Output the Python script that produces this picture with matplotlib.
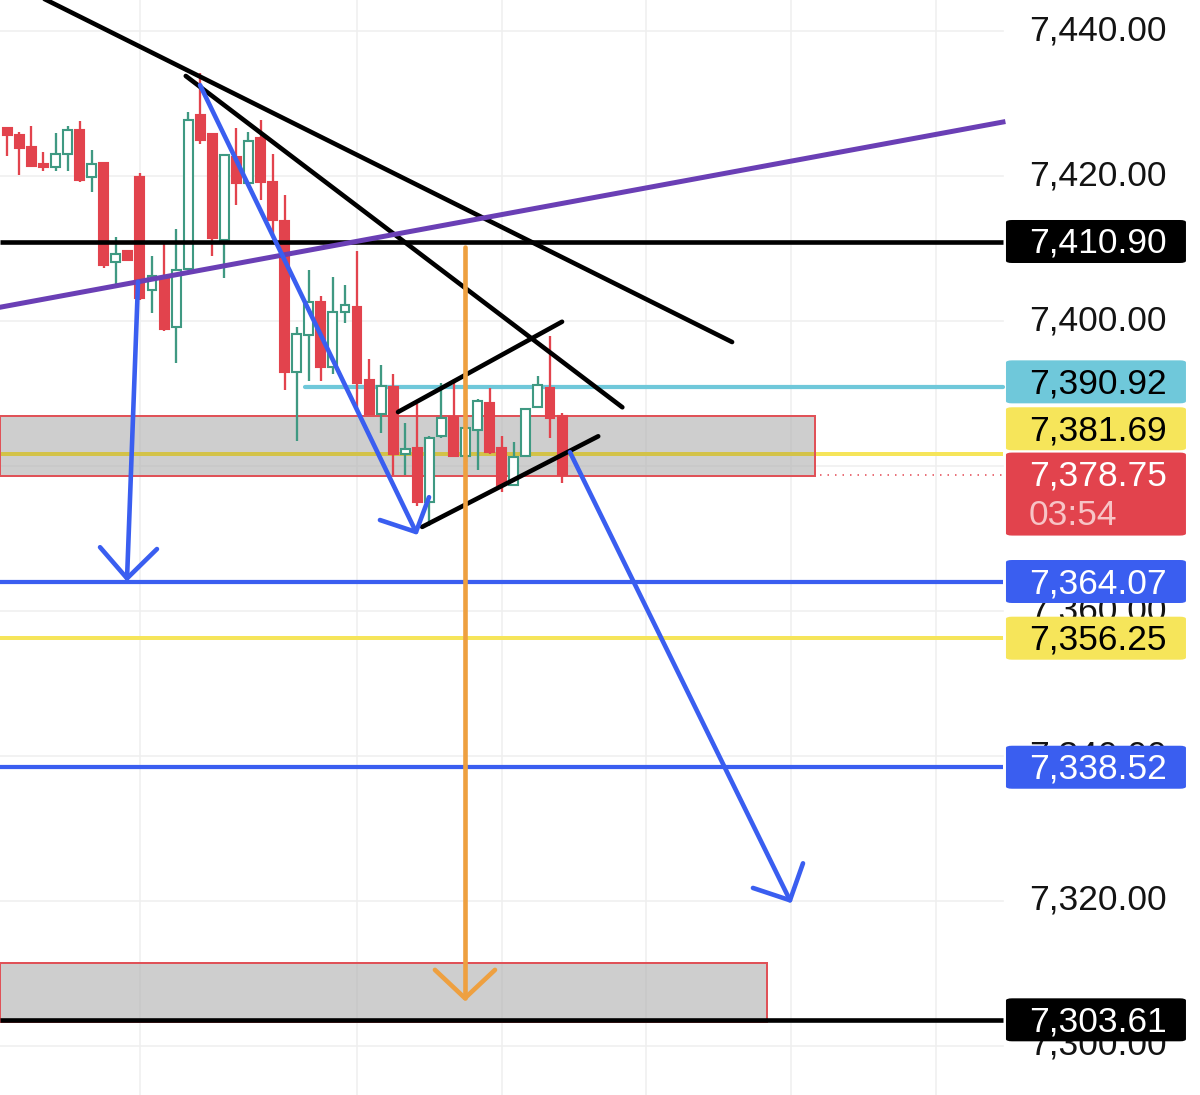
import matplotlib
matplotlib.use("Agg")
import matplotlib.pyplot as plt
from matplotlib.patches import Rectangle, FancyBboxPatch

# ---------------- data ----------------
opens = [7426.6, 7425.7, 7424.0, 7421.5, 7421.2, 7423.1, 7426.3, 7419.9, 7421.8, 7408.2,
         7409.7, 7419.9, 7404.3, 7406.1, 7399.2, 7407.2, 7428.4, 7425.8, 7411.2, 7422.6,
         7419.0, 7425.3, 7419.2, 7413.8, 7392.9, 7398.1, 7402.6, 7393.7, 7401.3, 7401.9,
         7391.8, 7387.2, 7390.9, 7381.6, 7382.5, 7375.1, 7384.1, 7386.8, 7381.4, 7384.9,
         7388.7, 7382.5, 7377.4, 7381.4, 7388.1, 7390.8, 7386.9]
highs = [7426.8, 7426.1, 7426.9, 7423.3, 7426.0, 7426.9, 7427.6, 7423.6, 7421.8, 7411.6,
         7409.7, 7420.4, 7408.9, 7410.9, 7412.7, 7428.9, 7434.2, 7425.8, 7422.9, 7426.6,
         7426.1, 7427.7, 7423.0, 7417.4, 7399.2, 7407.0, 7403.4, 7406.1, 7405.0, 7409.7,
         7394.7, 7394.0, 7392.7, 7386.0, 7388.5, 7384.1, 7391.4, 7392.0, 7389.2, 7389.2,
         7390.8, 7384.2, 7383.3, 7387.9, 7392.4, 7398.0, 7387.3]
lows = [7422.7, 7420.1, 7421.4, 7420.7, 7420.7, 7420.7, 7419.2, 7417.8, 7407.3, 7404.8,
        7408.4, 7402.9, 7401.1, 7398.6, 7394.2, 7407.2, 7424.4, 7409.0, 7405.9, 7416.0,
        7419.0, 7416.7, 7411.4, 7390.5, 7383.4, 7391.7, 7391.7, 7392.7, 7399.7, 7387.8,
        7387.2, 7384.6, 7378.8, 7378.7, 7374.5, 7371.7, 7383.9, 7381.4, 7380.5, 7379.4,
        7381.7, 7376.4, 7377.2, 7381.4, 7388.1, 7383.9, 7377.6]
closes = [7425.7, 7423.8, 7421.4, 7421.3, 7423.0, 7426.4, 7419.5, 7421.6, 7407.7, 7409.2,
          7408.4, 7403.2, 7406.2, 7398.9, 7407.1, 7427.7, 7425.0, 7411.5, 7422.9, 7419.1,
          7424.8, 7419.2, 7413.9, 7392.9, 7398.2, 7402.6, 7393.7, 7401.2, 7402.2, 7391.4,
          7387.2, 7391.0, 7381.7, 7382.4, 7375.0, 7383.9, 7386.6, 7381.4, 7385.2, 7388.9,
          7382.0, 7377.4, 7381.3, 7387.9, 7391.2, 7386.6, 7378.75]

price_ticks = [7440, 7420, 7400, 7380, 7360, 7340, 7320, 7300]
hidden_ticks = [7380]          # fully covered by price tags in the reference
time_grid = [11, 29, 41, 53, 65, 77]

level_black = [7410.90, 7303.61]
level_blue = [7364.07, 7338.52]
level_yellow = [7381.69, 7356.25]
level_cyan = 7390.92
last_price = 7378.75
countdown = "03:54"

# drawings: (bar index, price) endpoints
trend_black = [((1.9, 7445.4), (60.1, 7397.1)),
               ((14.8, 7433.8), (51.0, 7388.1)),
               ((32.4, 7387.45), (46.0, 7399.9)),
               ((34.4, 7371.6), (49.0, 7384.1))]
trend_purple = ((-0.6, 7401.9), (82.56, 7427.45))
arrows_blue = [((10.84, 7405.4), (9.93, 7364.5), (7.69, 7368.8), (12.41, 7368.55)),
               ((15.98, 7432.55), (33.89, 7370.9), (30.9, 7372.55), (34.97, 7375.7)),
               ((46.66, 7381.9), (64.9, 7320.1), (61.83, 7321.8), (65.98, 7325.2))]
arrow_orange = ((37.95, 7410.2), (37.95, 7306.6), (35.46, 7310.5), (40.44, 7310.5))
zones = [((-0.6, 66.97), (7378.62, 7386.9)), ((-0.6, 63.0), (7303.31, 7311.45))]

# ---------------- style ----------------
RED = '#e2434d'
GREEN = '#3f9982'
BLUE = '#3a5ef0'
YELLOW = '#f6e55a'
OLIVE = '#d3c248'
CYAN = '#6fc8da'
PURPLE = '#6a3fb5'
ORANGE = '#eea040'

XMIN, XMAX = -0.605, 98.9
YMIN, YMAX = 7293.24, 7444.28
XR = 82.56  # right edge of chart pane

fig = plt.figure(figsize=(12, 10.95), dpi=100)
ax = fig.add_axes([0, 0, 1, 1])
ax.set_xlim(XMIN, XMAX)
ax.set_ylim(YMIN, YMAX)
ax.axis('off')

px = 72 / 100.0  # points per pixel

# grid
for p in price_ticks:
    ax.plot([XMIN, XR], [p, p], color='#efefef', lw=1.6 * px, zorder=1)
for t in time_grid:
    ax.plot([t, t], [YMIN, YMAX], color='#efefef', lw=1.6 * px, zorder=1)

# yellow levels
for p in level_yellow:
    ax.plot([XMIN, XR], [p, p], color=YELLOW, lw=4.0 * px, zorder=2, solid_capstyle='butt')

# zones
for (x0, x1), (y0, y1) in zones:
    ax.add_patch(Rectangle((x0, y0), x1 - x0, y1 - y0, facecolor='#b0b0b0', alpha=0.62,
                           edgecolor='none', zorder=3))
    ax.add_patch(Rectangle((x0, y0), x1 - x0, y1 - y0, facecolor='none',
                           edgecolor='#e05258', lw=2.0 * px, zorder=3.1))
# yellow level seen through the first zone
ax.plot([XMIN, zones[0][0][1]], [level_yellow[0]] * 2, color=OLIVE, lw=4.0 * px,
        zorder=3.05, solid_capstyle='butt')

# cyan level
ax.plot([24.68, XR], [level_cyan, level_cyan], color=CYAN, lw=4.2 * px, zorder=3.2,
        solid_capstyle='round')

# last price dotted
ax.plot([67.4, XR], [last_price, last_price], color=RED, lw=1.5 * px,
        linestyle=(0, (1, 4)), zorder=3.2)

# candles
bw = 0.74
for i, (o, h, l, c) in enumerate(zip(opens, highs, lows, closes)):
    up = c >= o
    col = GREEN if up else RED
    ax.plot([i, i], [l, h], color=col, lw=2.3 * px, zorder=4, solid_capstyle='butt')
    lo, hi = min(o, c), max(o, c)
    if hi - lo < 0.3:
        hi = lo + 0.3
    ax.add_patch(Rectangle((i - bw / 2, lo), bw, hi - lo,
                           facecolor='white' if up else RED, edgecolor=col,
                           lw=2.1 * px, zorder=4.5))

# horizontal levels
for p in level_black:
    ax.plot([XMIN, XR], [p, p], color='black', lw=4.6 * px, zorder=5, solid_capstyle='butt')
for p in level_blue:
    ax.plot([XMIN, XR], [p, p], color=BLUE, lw=4.2 * px, zorder=5, solid_capstyle='butt')

# trend lines
for (a, b) in trend_black:
    ax.plot([a[0], b[0]], [a[1], b[1]], color='black', lw=4.6 * px, zorder=6,
            solid_capstyle='round')
a, b = trend_purple
ax.plot([a[0], b[0]], [a[1], b[1]], color=PURPLE, lw=5.0 * px, zorder=6)

def draw_arrow(spec, color):
    s, tip, l, r = spec
    kw = dict(color=color, lw=4.6 * px, zorder=7, solid_capstyle='round',
              solid_joinstyle='round')
    ax.plot([s[0], tip[0]], [s[1], tip[1]], **kw)
    ax.plot([l[0], tip[0], r[0]], [l[1], tip[1], r[1]], **kw)

for spec in arrows_blue:
    draw_arrow(spec, BLUE)
draw_arrow(arrow_orange, ORANGE)

# ---------------- price scale ----------------
FONT = ['Liberation Sans', 'DejaVu Sans']
FS = 25.5
ppu = 7.25  # pixels per price unit
def yoff(pxv):
    return pxv / ppu

TX = (1029 - 7.3) / 12.06
BX0 = (1006 - 7.3) / 12.06
BX1 = (1186 - 7.3) / 12.06

for p in price_ticks:
    if p in hidden_ticks:
        continue
    ax.text(TX, p + yoff(0.5), f"{p:,.2f}", fontsize=FS, family=FONT, color='#131313',
            va='center', ha='left', zorder=8)

def label(center, text, fc, tc, h=43, text2=None):
    hh = yoff(h)
    ax.add_patch(FancyBboxPatch((BX0, center - hh / 2), BX1 - BX0, hh,
                                boxstyle="round,pad=0,rounding_size=0.5",
                                mutation_aspect=ppu / 12.06,
                                facecolor=fc, edgecolor='none', zorder=9))
    if text2 is None:
        ax.text(TX, center - yoff(2), text, fontsize=FS, family=FONT, color=tc,
                va='center', ha='left', zorder=10)
    else:
        ax.text(TX, center + hh / 4 - yoff(3), text, fontsize=FS, family=FONT, color=tc,
                va='center', ha='left', zorder=10)
        ax.text(TX, center - hh / 4 - yoff(1), text2, fontsize=FS, family=FONT,
                color='#f7c4c6', va='center', ha='left', zorder=10)

label(level_black[0] + yoff(0.5), f"{level_black[0]:,.2f}", 'black', 'white')
label(level_cyan + yoff(5), f"{level_cyan:,.2f}", CYAN, 'black')
label(level_yellow[0] + yoff(25), f"{level_yellow[0]:,.2f}", YELLOW, 'black')
label(last_price - yoff(19), f"{last_price:,.2f}", RED, 'white', h=83, text2=countdown)
label(level_blue[0], f"{level_blue[0]:,.2f}", BLUE, 'white')
label(level_yellow[1], f"{level_yellow[1]:,.2f}", YELLOW, 'black')
label(level_blue[1] - yoff(0.5), f"{level_blue[1]:,.2f}", BLUE, 'white')
label(level_black[1] - yoff(0), f"{level_black[1]:,.2f}", 'black', 'white')

fig.savefig("out.png", dpi=100)
